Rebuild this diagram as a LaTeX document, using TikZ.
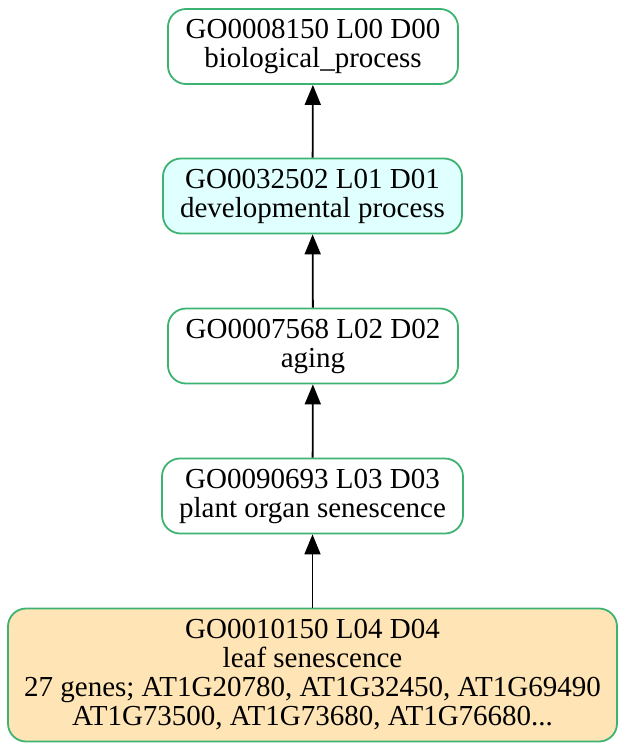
\documentclass[tikz,border=0pt]{standalone}
\usepackage{fontspec}
\setmainfont{Liberation Serif}
\usetikzlibrary{arrows.meta}
\definecolor{goedge}{HTML}{3CB371}
\definecolor{gocyan}{HTML}{E0FFFF}
\definecolor{gomoccasin}{HTML}{FFE4B5}
\begin{document}
\begin{tikzpicture}[x=1pt,y=-1pt,
  goterm/.style={draw=goedge, line width=1.8pt, rounded corners=18pt, fill=white,
    align=center, inner sep=0pt, font=\fontsize{29}{29}\selectfont},
  isa/.style={draw=black, line width=1.8pt, -{Triangle[length=20pt,width=16pt]}}]
  \useasboundingbox (0,0) rectangle (625,750);
  \node[goterm, minimum width=290pt, minimum height=75pt] (n0) at (313,46.5)
    {GO0008150 L00 D00\\biological\_process};
  \node[goterm, fill=gocyan, minimum width=299pt, minimum height=75pt] (n1) at (312.5,196)
    {GO0032502 L01 D01\\developmental process};
  \node[goterm, minimum width=290pt, minimum height=75pt] (n2) at (313,346)
    {GO0007568 L02 D02\\aging};
  \node[goterm, minimum width=301pt, minimum height=75pt] (n3) at (312.5,496)
    {GO0090693 L03 D03\\plant organ senescence};
  \node[goterm, fill=gomoccasin, minimum width=609pt, minimum height=133pt] (n4) at (312.5,675)
    {GO0010150 L04 D04\\leaf senescence\\27 genes; AT1G20780, AT1G32450, AT1G69490\\AT1G73500, AT1G73680, AT1G76680...};
  \draw[isa] (n1) -- (n0);
  \draw[isa] (n2) -- (n1);
  \draw[isa] (n3) -- (n2);
  \draw[isa] (n4) -- (n3);
\end{tikzpicture}
\end{document}
